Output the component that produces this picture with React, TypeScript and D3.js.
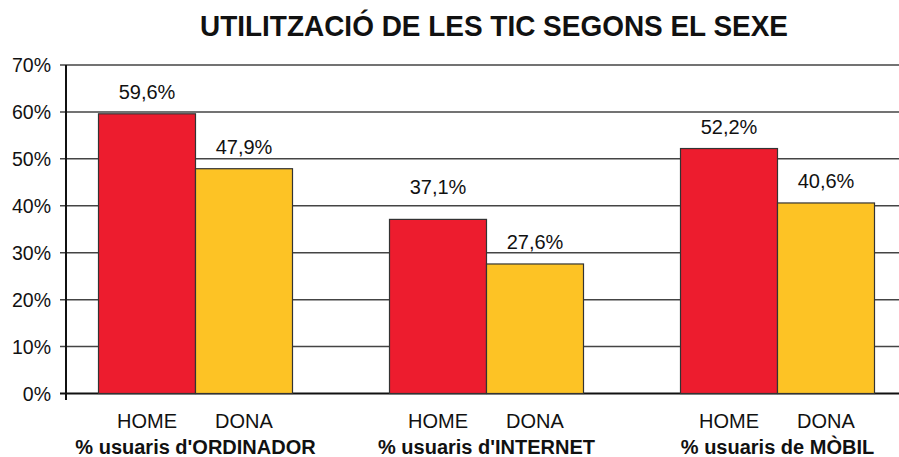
import React from 'react';
import * as d3 from 'd3';

const groups = ["% usuaris d'ORDINADOR", "% usuaris d'INTERNET", '% usuaris de MÒBIL'];
const sexes = ['HOME', 'DONA'];
const homeValues = [59.6, 37.1, 52.2];
const donaValues = [47.9, 27.6, 40.6];
const yTicks = [0, 10, 20, 30, 40, 50, 60, 70];

const colors: Record<string, string> = { HOME: '#ED1C2E', DONA: '#FDC325' };
const font = '"Liberation Sans", Arial, Helvetica, sans-serif';

const W = 899;
const H = 457;

const App: React.FC = () => {
  const margin = { left: 66, top: 65, bottom: 393.5 };

  const y = d3.scaleLinear().domain([0, 70]).range([margin.bottom, margin.top]);

  // step 291, bars start at ~98 (chart is cut on the right edge)
  const x0 = d3.scaleBand<string>()
    .domain(groups)
    .range([50, 923])
    .paddingInner(1 / 3)
    .paddingOuter(1 / 6);

  const x1 = d3.scaleBand<string>()
    .domain(sexes)
    .range([0, x0.bandwidth()]);

  const fmt = (v: number) => d3.format('.1f')(v).replace('.', ',') + '%';

  // label sits ~22px above the bar, pushed over a gridline if it would cross it
  const labelY = (v: number) => {
    let ly = y(v) - 22;
    yTicks.forEach(t => {
      const gy = y(t);
      if (gy > ly && gy - ly < 9) ly = gy - 19;
    });
    return ly;
  };

  const data = groups.map((g, i) => ({
    group: g,
    values: [
      { sex: 'HOME', value: homeValues[i] },
      { sex: 'DONA', value: donaValues[i] },
    ],
  }));

  return (
    <div style={{ position: 'fixed', left: 0, top: 0 }}>
      <svg width={W} height={H} style={{ display: 'block', background: '#fff' }}>
        <text
          x={494}
          y={36}
          textAnchor="middle"
          fontFamily={font}
          fontWeight="bold"
          fontSize={30}
          textLength={588}
          lengthAdjust="spacingAndGlyphs"
          fill="#111"
        >
          UTILITZACIÓ DE LES TIC SEGONS EL SEXE
        </text>

        {/* grid + y ticks */}
        {yTicks.map(t => (
          <g key={t}>
            <line
              x1={60}
              x2={W}
              y1={y(t)}
              y2={y(t)}
              stroke={t === 0 ? '#111' : '#444'}
              strokeWidth={t === 0 ? 2 : 1.5}
            />
            <text
              x={51}
              y={y(t)}
              dy="0.36em"
              textAnchor="end"
              fontFamily={font}
              fontSize={19.5}
              fill="#111"
            >
              {t}%
            </text>
          </g>
        ))}

        {/* bars */}
        {data.map(d => (
          <g key={d.group} transform={`translate(${x0(d.group)},0)`}>
            {d.values.map(v => (
              <g key={v.sex}>
                <rect
                  x={x1(v.sex)}
                  y={y(v.value)}
                  width={x1.bandwidth()}
                  height={y(0) - y(v.value)}
                  fill={colors[v.sex]}
                  stroke="#333"
                  strokeWidth={1.2}
                />
                <text
                  x={(x1(v.sex) ?? 0) + x1.bandwidth() / 2}
                  y={labelY(v.value)}
                  dy="0.36em"
                  textAnchor="middle"
                  fontFamily={font}
                  fontSize={20}
                  fill="#111"
                >
                  {fmt(v.value)}
                </text>
                <text
                  x={(x1(v.sex) ?? 0) + x1.bandwidth() / 2}
                  y={428}
                  textAnchor="middle"
                  fontFamily={font}
                  fontSize={20}
                  fill="#111"
                >
                  {v.sex}
                </text>
              </g>
            ))}
            <text
              x={x0.bandwidth() / 2}
              y={454}
              textAnchor="middle"
              fontFamily={font}
              fontWeight="bold"
              fontSize={20}
              fill="#111"
            >
              {d.group}
            </text>
          </g>
        ))}

        {/* y axis */}
        <line x1={margin.left} x2={margin.left} y1={margin.top} y2={400} stroke="#111" strokeWidth={2} />
      </svg>
    </div>
  );
};

export default App;
